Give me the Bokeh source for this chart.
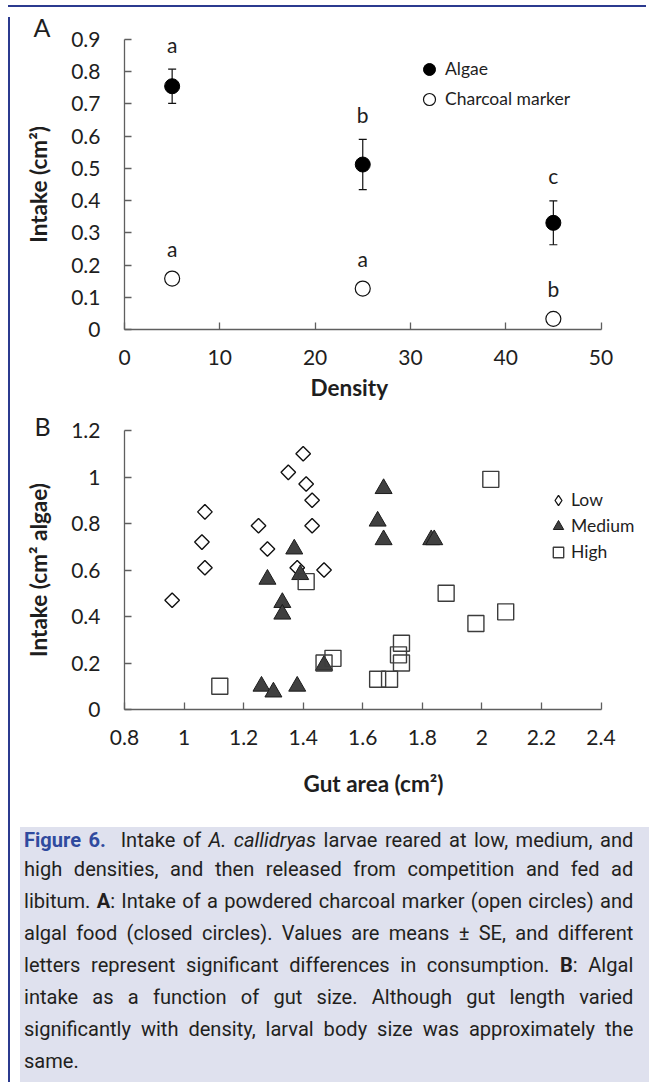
from bokeh.plotting import figure
from bokeh.models import (Range1d, FixedTicker, ColumnDataSource, Whisker, TeeHead,
                          Legend, LegendItem, Div, Spacer, Title)
from bokeh.layouts import column, row
from bokeh.embed import file_html
from bokeh.resources import INLINE
from bokeh.core.properties import value

# ---------------- Panel A data ----------------
density = [5, 25, 45]
algae_mean = [0.755, 0.512, 0.331]
algae_se = [0.053, 0.078, 0.068]
charcoal_mean = [0.158, 0.127, 0.033]
algae_letters = ["a", "b", "c"]
charcoal_letters = ["a", "a", "b"]
a_xticks = [0, 10, 20, 30, 40, 50]
a_xtick_labels = ["0", "10", "20", "30", "40", "50"]
a_yticks = [0, 0.1, 0.2, 0.3, 0.4, 0.5, 0.6, 0.7, 0.8, 0.9]
a_ytick_labels = ["0", "0.1", "0.2", "0.3", "0.4", "0.5", "0.6", "0.7", "0.8", "0.9"]

# ---------------- Panel B data ----------------
low_gut = [0.96, 1.06, 1.07, 1.07, 1.25, 1.28, 1.35, 1.40, 1.41, 1.43, 1.43, 1.38, 1.47]
low_intake = [0.47, 0.72, 0.85, 0.61, 0.79, 0.69, 1.02, 1.10, 0.97, 0.90, 0.79, 0.61, 0.60]
med_gut = [1.37, 1.28, 1.39, 1.33, 1.33, 1.26, 1.30, 1.38, 1.47, 1.67, 1.65, 1.67, 1.83, 1.84]
med_intake = [0.69, 0.56, 0.58, 0.46, 0.41, 0.10, 0.075, 0.10, 0.19, 0.95, 0.81, 0.73, 0.73, 0.73]
high_gut = [1.12, 1.41, 1.47, 1.50, 2.03, 1.88, 1.98, 2.08, 1.73, 1.72, 1.73, 1.65, 1.69]
high_intake = [0.10, 0.55, 0.20, 0.22, 0.99, 0.50, 0.37, 0.42, 0.285, 0.235, 0.20, 0.13, 0.13]
b_xticks = [0.8, 1.0, 1.2, 1.4, 1.6, 1.8, 2.0, 2.2, 2.4]
b_xtick_labels = ["0.8", "1", "1.2", "1.4", "1.6", "1.8", "2", "2.2", "2.4"]
b_yticks = [0, 0.2, 0.4, 0.6, 0.8, 1.0, 1.2]
b_ytick_labels = ["0", "0.2", "0.4", "0.6", "0.8", "1", "1.2"]

FONT = "Lato"
AXC = "#5f5f5f"
TXT = "#1e1e1e"
BLUE = "#2b3a8f"
LABEL_SIZE = "22.5px"

# layout geometry (pixels)
FIG_W = 635
LEFT, RIGHT = 109, 2
AXIS_PX = 476.5          # drawn length of each x axis
FRAME_W = FIG_W - LEFT - RIGHT


def ext_end(ticks):
    return ticks[0] + (ticks[-1] - ticks[0]) * FRAME_W / AXIS_PX


def style(p, xt, xl, yt, yl, xlabel, xlabel_shift, xlabel_gap, ylabel,
          x_std, y_std, ylab_std):
    p.xgrid.visible = False
    p.ygrid.visible = False
    p.outline_line_color = None
    p.xaxis.ticker = FixedTicker(ticks=xt)
    p.yaxis.ticker = FixedTicker(ticks=yt)
    p.xaxis.bounds = (xt[0], xt[-1])
    p.xaxis.major_label_overrides = {t: s for t, s in zip(xt, xl)}
    p.yaxis.major_label_overrides = {t: s for t, s in zip(yt, yl)}
    p.yaxis.axis_label = ylabel
    for ax in (p.xaxis[0], p.yaxis[0]):
        ax.axis_line_color = AXC
        ax.axis_line_width = 1.3
        ax.major_tick_line_color = AXC
        ax.major_tick_line_width = 1.3
        ax.major_tick_in = 7
        ax.major_tick_out = 0
        ax.minor_tick_line_color = None
        ax.major_label_text_font = FONT
        ax.major_label_text_font_size = "21px"
        ax.major_label_text_color = TXT
        ax.axis_label_text_font = FONT
        ax.axis_label_text_font_size = LABEL_SIZE
        ax.axis_label_text_font_style = "bold"
        ax.axis_label_text_color = TXT
    p.xaxis.major_label_standoff = x_std
    p.yaxis.major_label_standoff = y_std
    p.yaxis.axis_label_standoff = ylab_std
    # x-axis title below the axis
    p.add_layout(Title(text=xlabel, align="left", offset=xlabel_shift,
                       vertical_align="top", standoff=xlabel_gap, text_font=FONT,
                       text_font_size=LABEL_SIZE, text_font_style="bold",
                       text_color=TXT), "below")


def panel_letter(p, letter, offset, standoff):
    p.title.text = letter
    p.title.align = "left"
    p.title.offset = offset
    p.title.standoff = standoff
    p.title.text_font = FONT
    p.title.text_font_size = "25px"
    p.title.text_font_style = "normal"
    p.title.text_color = TXT


# ---------------- Panel A ----------------
pA = figure(width=FIG_W, height=398, x_range=Range1d(a_xticks[0], ext_end(a_xticks)),
            y_range=Range1d(0, 0.9),
            output_backend="svg", toolbar_location=None,
            min_border_left=LEFT, min_border_right=RIGHT, min_border_top=26,
            min_border_bottom=81)
style(pA, a_xticks, a_xtick_labels, a_yticks, a_ytick_labels,
      "Density", 186, 13, "Intake (cm²)", 20, 24, 16)
panel_letter(pA, "A", -91, -5)

srcA = ColumnDataSource(dict(
    x=density, algae=algae_mean,
    upper=[m + s for m, s in zip(algae_mean, algae_se)],
    lower=[m - s for m, s in zip(algae_mean, algae_se)],
    charcoal=charcoal_mean, la=algae_letters, lc=charcoal_letters))

pA.add_layout(Whisker(source=srcA, base="x", upper="upper", lower="lower",
                      line_color="#111111", line_width=1.2,
                      upper_head=TeeHead(size=8, line_color="#111111", line_width=1.2),
                      lower_head=TeeHead(size=8, line_color="#111111", line_width=1.2)))
rAlg = pA.scatter("x", "algae", source=srcA, marker="circle", size=15,
                  fill_color="black", line_color="black")
rChar = pA.scatter("x", "charcoal", source=srcA, marker="circle", size=15,
                   fill_color="white", line_color="#111111", line_width=1.2)
pA.text("x", "upper", text="la", source=srcA, text_align="center",
        text_baseline="alphabetic", y_offset=-25, text_font=value(FONT),
        text_font_size="21px", text_color=TXT)
pA.text("x", "charcoal", text="lc", source=srcA, text_align="center",
        text_baseline="alphabetic", y_offset=-30, text_font=value(FONT),
        text_font_size="21px", text_color=TXT)

legA = Legend(items=[LegendItem(label="Algae", renderers=[rAlg]),
                     LegendItem(label="Charcoal marker", renderers=[rChar])],
              location=(289, 215.5), padding=0, margin=0, spacing=0,
              glyph_width=32, glyph_height=30, label_standoff=0, label_height=20,
              border_line_color=None, background_fill_alpha=0,
              label_text_font=FONT, label_text_font_size="17.5px",
              label_text_color=TXT)
pA.add_layout(legA)

# ---------------- Panel B ----------------
pB = figure(width=FIG_W, height=412, x_range=Range1d(b_xticks[0], ext_end(b_xticks)),
            y_range=Range1d(0, 1.2),
            output_backend="svg", toolbar_location=None,
            min_border_left=LEFT, min_border_right=RIGHT, min_border_top=20,
            min_border_bottom=113)
style(pB, b_xticks, b_xtick_labels, b_yticks, b_ytick_labels,
      "Gut area (cm²)", 179, 45, "Intake (cm² algae)", 20, 24, 16)
panel_letter(pB, "B", -90, -20)

rLow = pB.scatter(low_gut, low_intake, marker="square", angle=0.785398, size=10.3,
                  fill_color="white", fill_alpha=0, line_color="#111111", line_width=1.4)
rMed = pB.scatter(med_gut, med_intake, marker="triangle", size=17,
                  fill_color="#404040", line_color="#1c1c1c", line_width=1)
rHigh = pB.scatter(high_gut, high_intake, marker="square", size=16,
                   fill_alpha=0, line_color="#3c3c3c", line_width=1.4)
# legend proxy for the diamond symbol (no visible data)
rLowLeg = pB.scatter(x=[float("nan")], y=[float("nan")], marker="diamond",
                     fill_color="white", line_color="#111111", line_width=1.3)

legB = Legend(items=[LegendItem(label="Low", renderers=[rLowLeg]),
                     LegendItem(label="Medium", renderers=[rMed]),
                     LegendItem(label="High", renderers=[rHigh])],
              location=(421, 144.3), padding=0, margin=0, spacing=0,
              glyph_width=26, glyph_height=26, label_standoff=0, label_height=20,
              border_line_color=None, background_fill_alpha=0,
              label_text_font=FONT, label_text_font_size="17.5px",
              label_text_color=TXT)
pB.add_layout(legB)

# ---------------- Caption ----------------
lines = [
    '<b style="color:#2f4a9e">Figure 6.</b>&nbsp; Intake of <i>A. callidryas</i> larvae reared at low, medium, and',
    'high densities, and then released from competition and fed ad',
    'libitum. <b>A</b>: Intake of a powdered charcoal marker (open circles) and',
    'algal food (closed circles). Values are means ± SE, and different',
    'letters represent significant differences in consumption. <b>B</b>: Algal',
    'intake as a function of gut size. Although gut length varied',
    'significantly with density, larval body size was approximately the',
    'same.',
]
inner = ""
for i, ln in enumerate(lines):
    last = "left" if i == len(lines) - 1 else "justify"
    lh = 26 if i == 0 else 32
    inner += (f'<div style="text-align:justify;text-align-last:{last};white-space:nowrap;'
              f'height:{lh}px;line-height:{lh}px;">{ln}</div>')
cap_html = (
    '<div style="position:relative;width:635px;height:262px;overflow:hidden;'
    'background:#dfe1ee;">'
    '<div style="position:absolute;left:4px;top:0px;width:638px;'
    'transform:scaleX(0.955);transform-origin:0 0;font-family:Roboto;'
    f'font-size:21px;color:#231f20;">{inner}</div></div>'
)
caption = Div(text=cap_html, width=635, height=262, styles={"overflow": "hidden"})

top_line = Div(text="", width=638, height=2, styles={"background-color": BLUE})
left_line = Div(text="", width=2, height=1072, styles={"background-color": BLUE})
right_line = Div(text="", width=1, height=1072, styles={"background-color": "#4a5fb0"})

layout = row(Spacer(width=3, height=1074),
             column(top_line,
                    row(left_line, column(pA, pB, caption), right_line)))

open("out.html", "w").write(file_html(layout, INLINE))
